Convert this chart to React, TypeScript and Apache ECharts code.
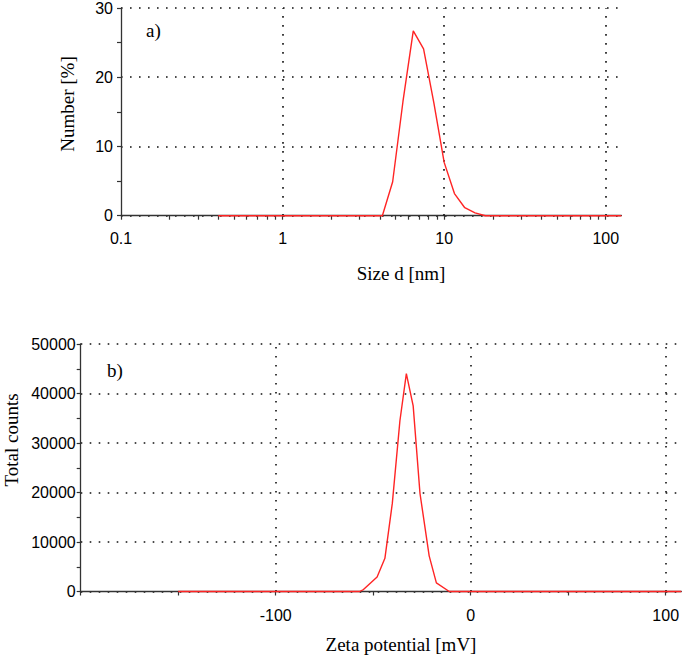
import { useEffect, useRef } from "react";
import * as echarts from "echarts";

// a) size distribution by number
const sizeNm = [0.4, 4.145, 4.801, 5.56, 6.439, 7.456, 8.635, 10.0, 11.58, 13.41, 15.53, 17.98, 125];
const numberPct = [0, 0, 4.9, 16.5, 26.7, 24.1, 16.3, 7.7, 3.2, 1.15, 0.4, 0, 0];
const sizeDecades = [0.1, 1, 10, 100];
const sizeMax = 125;
const numberTicks = [0, 10, 20, 30];

// b) zeta potential distribution
const zetaMv = [-150, -57, -55, -48, -44, -40.2, -36.3, -33, -29.5, -26, -21.3, -17.6, -11, 108];
const totalCounts = [0, 0, 400, 2950, 6700, 17800, 34500, 44000, 37500, 19800, 7200, 1750, 0, 0];
const zetaLabels = [-100, 0, 100];
const zetaTicks = [-200, -150, -100, -50, 0, 50, 100];
const zetaMin = -200;
const zetaMax = 108;
const countTicks = [0, 10000, 20000, 30000, 40000, 50000];

const RED = "#ff2424";
const AXIS = "#333";
const DOT = { type: [1.6, 7.4] as number[], color: "#111", width: 1.6 };
const SANS = "Liberation Sans";
const SERIF = "Liberation Serif";

export default function App() {
  const ref = useRef<HTMLDivElement>(null);

  useEffect(() => {
    const chart = echarts.init(ref.current!, null, { renderer: "svg" });

    const lg = (v: number) => Math.log10(v);
    const minorLogTicks: number[] = [];
    for (let d = -1; d <= 2; d++) {
      for (let k = 1; k <= 9; k++) {
        const v = lg(k * Math.pow(10, d));
        if (v <= lg(sizeMax) + 1e-9) minorLogTicks.push(v);
      }
    }
    const decadeLabel = (v: number) => {
      const r = Math.round(v);
      if (Math.abs(v - r) > 1e-6) return "";
      const idx = sizeDecades.findIndex((s) => Math.abs(lg(s) - r) < 1e-6);
      return idx >= 0 ? String(sizeDecades[idx]) : "";
    };

    const tickLabel = { fontFamily: SANS, fontSize: 16, color: "#000" };

    const option: any = {
      animation: false,
      backgroundColor: "#fff",
      grid: [
        { left: 121, top: 6, width: 500.4, height: 209.7 },
        { left: 80.7, top: 344, width: (zetaMax - zetaMin) * 1.95, height: 247.5 },
      ],
      xAxis: [
        {
          type: "value",
          gridIndex: 0,
          min: -1,
          max: lg(sizeMax),
          interval: 1,
          z: 0,
          axisLine: { show: true, onZero: false, lineStyle: { color: AXIS, width: 1.3 } },
          axisTick: {
            show: true,
            length: 4,
            customValues: minorLogTicks,
            lineStyle: { color: AXIS, width: 1.2 },
          },
          axisLabel: {
            ...tickLabel,
            margin: 15,
            customValues: sizeDecades.map(lg),
            formatter: decadeLabel,
          },
          splitLine: { show: false },
        },
        {
          type: "value",
          gridIndex: 1,
          min: zetaMin,
          max: zetaMax,
          interval: 100,
          z: 0,
          axisLine: { show: true, onZero: false, lineStyle: { color: AXIS, width: 1.3 } },
          axisTick: {
            show: true,
            length: 4,
            customValues: zetaTicks,
            lineStyle: { color: AXIS, width: 1.2 },
          },
          axisLabel: {
            ...tickLabel,
            margin: 16,
            customValues: zetaLabels,
            formatter: (v: number) => (zetaLabels.includes(v) ? String(v) : ""),
          },
          splitLine: { show: false },
        },
      ],
      yAxis: [
        {
          type: "value",
          gridIndex: 0,
          min: numberTicks[0],
          max: numberTicks[numberTicks.length - 1],
          interval: 10,
          z: 0,
          axisLine: { show: true, onZero: false, lineStyle: { color: AXIS, width: 1.3 } },
          axisTick: { show: true, length: 4, lineStyle: { color: AXIS, width: 1.2 } },
          minorTick: { show: true, splitNumber: 2, length: 4, lineStyle: { color: AXIS, width: 1.2 } },
          axisLabel: { ...tickLabel, margin: 8, formatter: (v: number) => String(v) },
          splitLine: { show: true, lineStyle: DOT },
        },
        {
          type: "value",
          gridIndex: 1,
          min: countTicks[0],
          max: countTicks[countTicks.length - 1],
          interval: 10000,
          z: 0,
          axisLine: { show: true, onZero: false, lineStyle: { color: AXIS, width: 1.3 } },
          axisTick: { show: true, length: 4, lineStyle: { color: AXIS, width: 1.2 } },
          minorTick: { show: true, splitNumber: 2, length: 4, lineStyle: { color: AXIS, width: 1.2 } },
          axisLabel: { ...tickLabel, margin: 5, formatter: (v: number) => String(v) },
          splitLine: { show: true, lineStyle: DOT },
        },
      ],
      series: [
        {
          type: "line",
          xAxisIndex: 0,
          yAxisIndex: 0,
          data: sizeNm.map((s, i) => [lg(s), numberPct[i]]),
          showSymbol: false,
          symbol: "none",
          clip: false,
          lineStyle: { color: RED, width: 1.4 },
          z: 10,
          markLine: {
            silent: true,
            symbol: ["none", "none"],
            label: { show: false },
            lineStyle: DOT,
            z: 1,
            data: sizeDecades.slice(1).map((s) => ({ xAxis: lg(s) })),
          },
        },
        {
          type: "line",
          xAxisIndex: 1,
          yAxisIndex: 1,
          data: zetaMv.map((z, i) => [z, totalCounts[i]]),
          showSymbol: false,
          symbol: "none",
          clip: false,
          lineStyle: { color: RED, width: 1.4 },
          z: 10,
          markLine: {
            silent: true,
            symbol: ["none", "none"],
            label: { show: false },
            lineStyle: DOT,
            z: 1,
            data: zetaLabels.map((z) => ({ xAxis: z })),
          },
        },
      ],
      graphic: [
        {
          type: "text",
          left: 146,
          top: 21,
          style: { text: "a)", fontFamily: SERIF, fontSize: 19, fill: "#000" },
        },
        {
          type: "text",
          left: 107,
          top: 361,
          style: { text: "b)", fontFamily: SERIF, fontSize: 19, fill: "#000" },
        },
        {
          type: "text",
          x: 67,
          y: 104,
          rotation: Math.PI / 2,
          style: {
            text: "Number [%]",
            fontFamily: SERIF,
            fontSize: 19,
            fill: "#000",
            align: "center",
            verticalAlign: "middle",
          },
        },
        {
          type: "text",
          x: 11,
          y: 440,
          rotation: Math.PI / 2,
          style: {
            text: "Total counts",
            fontFamily: SERIF,
            fontSize: 19,
            fill: "#000",
            align: "center",
            verticalAlign: "middle",
          },
        },
        {
          type: "text",
          x: 401,
          y: 273,
          style: {
            text: "Size d [nm]",
            fontFamily: SERIF,
            fontSize: 19,
            fill: "#000",
            align: "center",
            verticalAlign: "middle",
          },
        },
        {
          type: "text",
          x: 401,
          y: 644,
          style: {
            text: "Zeta potential [mV]",
            fontFamily: SERIF,
            fontSize: 19,
            fill: "#000",
            align: "center",
            verticalAlign: "middle",
          },
        },
      ],
    };

    chart.setOption(option);
    return () => chart.dispose();
  }, []);

  return (
    <div
      ref={ref}
      style={{ position: "absolute", left: 0, top: 0, width: 685, height: 658, background: "#fff" }}
    />
  );
}
